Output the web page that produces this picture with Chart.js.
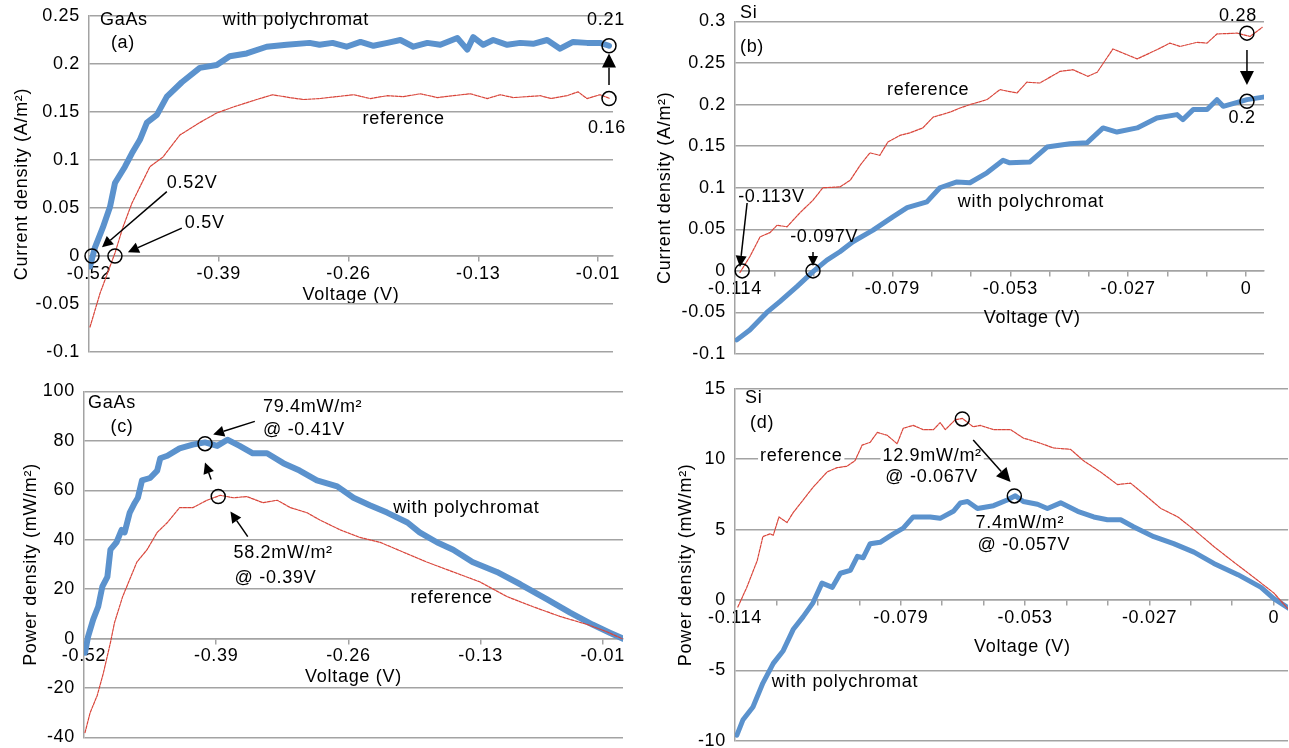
<!DOCTYPE html>
<html>
<head>
<meta charset="utf-8">
<script src="https://cdn.jsdelivr.net/npm/chart.js@4.4.0/dist/chart.umd.min.js"></script>
<style>
  html, body { margin: 0; padding: 0; background: #fff; overflow: hidden; width: 1289px; height: 748px; }
  canvas { position: absolute; left: 0; top: 0; }
</style>
</head>
<body>
<canvas id="chartA" width="1289" height="748"></canvas>
<canvas id="chartB" width="1289" height="748"></canvas>
<canvas id="chartC" width="1289" height="748"></canvas>
<canvas id="chartD" width="1289" height="748"></canvas>
<script>
// (a) GaAs current density vs voltage
const gaasPolyV = [-0.519,-0.514,-0.506,-0.499,-0.494,-0.484,-0.477,-0.469,-0.462,-0.452,-0.442,-0.427,-0.409,-0.392,-0.379,-0.362,-0.342,-0.322,-0.299,-0.289,-0.276,-0.262,-0.248,-0.235,-0.221,-0.208,-0.195,-0.181,-0.168,-0.151,-0.141,-0.135,-0.125,-0.115,-0.101,-0.088,-0.075,-0.061,-0.048,-0.035,-0.021,-0.008,0.001];
const gaasPolyJ = [-0.011,0.009,0.030,0.051,0.076,0.093,0.107,0.121,0.139,0.147,0.166,0.181,0.196,0.199,0.208,0.211,0.218,0.220,0.222,0.220,0.222,0.218,0.223,0.219,0.222,0.225,0.218,0.222,0.220,0.227,0.215,0.228,0.220,0.225,0.220,0.222,0.221,0.225,0.216,0.223,0.222,0.222,0.219];
const gaasRefV = [-0.519,-0.509,-0.499,-0.494,-0.486,-0.477,-0.469,-0.459,-0.446,-0.429,-0.409,-0.392,-0.376,-0.352,-0.336,-0.319,-0.305,-0.289,-0.272,-0.255,-0.238,-0.221,-0.205,-0.188,-0.171,-0.155,-0.138,-0.121,-0.108,-0.095,-0.081,-0.068,-0.057,-0.041,-0.030,-0.021,-0.008,0.002];
const gaasRefJ = [-0.074,-0.039,-0.011,0.003,0.030,0.055,0.072,0.093,0.103,0.126,0.139,0.149,0.155,0.163,0.168,0.165,0.163,0.164,0.166,0.168,0.164,0.167,0.166,0.169,0.165,0.167,0.169,0.164,0.168,0.165,0.166,0.167,0.164,0.167,0.171,0.164,0.168,0.164];

// (b) Si current density vs voltage
const siPolyV = [-0.1136,-0.1107,-0.1069,-0.1040,-0.1002,-0.0966,-0.0935,-0.0906,-0.0877,-0.0832,-0.0788,-0.0756,-0.0712,-0.0683,-0.0645,-0.0616,-0.0578,-0.0542,-0.0527,-0.0482,-0.0444,-0.0393,-0.0355,-0.0319,-0.0288,-0.0243,-0.0199,-0.0154,-0.0141,-0.0118,-0.0087,-0.0065,-0.0051,0.0002,0.0038];
const siPolyJ = [-0.083,-0.071,-0.050,-0.037,-0.019,-0.001,0.013,0.023,0.035,0.049,0.065,0.076,0.083,0.100,0.107,0.106,0.118,0.133,0.130,0.131,0.149,0.153,0.154,0.172,0.167,0.172,0.184,0.188,0.182,0.194,0.194,0.206,0.198,0.206,0.209];
const siRefV = [-0.1129,-0.1107,-0.1084,-0.1062,-0.1046,-0.1024,-0.0995,-0.0966,-0.0944,-0.0906,-0.0883,-0.0861,-0.0839,-0.0817,-0.0799,-0.0772,-0.0750,-0.0721,-0.0698,-0.0660,-0.0638,-0.0616,-0.0578,-0.0549,-0.0511,-0.0489,-0.0460,-0.0415,-0.0386,-0.0353,-0.0332,-0.0297,-0.0243,-0.0199,-0.0170,-0.0147,-0.0109,-0.0087,-0.0065,-0.0020,0.0009,0.0036];
const siRefJ = [-0.002,0.017,0.041,0.046,0.055,0.053,0.070,0.085,0.100,0.101,0.109,0.127,0.142,0.139,0.155,0.163,0.166,0.172,0.185,0.191,0.196,0.200,0.206,0.218,0.214,0.227,0.226,0.240,0.242,0.234,0.239,0.267,0.255,0.266,0.274,0.270,0.275,0.274,0.285,0.286,0.282,0.293];

// (c) GaAs power density vs voltage
const gaasPolyPV = [-0.519,-0.516,-0.511,-0.506,-0.502,-0.497,-0.494,-0.488,-0.483,-0.480,-0.475,-0.470,-0.467,-0.463,-0.455,-0.448,-0.445,-0.438,-0.426,-0.413,-0.401,-0.389,-0.379,-0.367,-0.354,-0.340,-0.324,-0.308,-0.291,-0.271,-0.255,-0.239,-0.222,-0.202,-0.190,-0.173,-0.157,-0.138,-0.114,-0.091,-0.065,-0.042,-0.020,-0.003,0.010];
const gaasPolyP = [-5.7,0.8,7.7,13,21,25,36,39,44,43,51,55,57,64,65,68,73,74,77,78.5,79.4,78,80.5,78,75,75,71,68,64,61.6,57,54,51,47,43,39,36,31,27,22,16,10.5,5.7,2.4,0];
const gaasRefPV = [-0.519,-0.514,-0.507,-0.501,-0.494,-0.490,-0.482,-0.475,-0.468,-0.458,-0.448,-0.438,-0.426,-0.413,-0.399,-0.386,-0.373,-0.360,-0.344,-0.330,-0.317,-0.301,-0.288,-0.268,-0.249,-0.229,-0.206,-0.183,-0.157,-0.131,-0.104,-0.079,-0.052,-0.025,-0.006,0.009];
const gaasRefP = [-38,-30,-23,-14,-1.6,6.5,17,24,31,36,43,47,53,53,56,58,57,57.5,55,56,53,51,48,44,41,39,35,31,27,23,17,13,9,5.7,2.8,0];

// (d) Si power density vs voltage
const siPolyPV = [-0.1136,-0.1123,-0.1102,-0.1081,-0.1059,-0.1038,-0.1017,-0.0996,-0.0975,-0.0956,-0.0934,-0.0917,-0.0896,-0.0881,-0.0869,-0.0854,-0.0833,-0.0805,-0.0784,-0.0763,-0.0727,-0.0706,-0.0678,-0.0663,-0.0648,-0.0627,-0.0593,-0.0564,-0.0547,-0.0530,-0.0500,-0.0479,-0.0451,-0.0415,-0.0381,-0.0352,-0.0324,-0.0297,-0.0254,-0.0212,-0.0169,-0.0127,-0.0076,-0.0027,0.0000,0.0032];
const siPolyP = [-9.6,-8.5,-7.6,-5.9,-4.5,-3.6,-2.1,-1.2,-0.2,1.2,0.9,1.9,2.1,3.1,3.0,4.0,4.1,4.7,5.1,5.9,5.9,5.8,6.3,6.9,7.0,6.5,6.7,7.1,7.4,7.0,6.8,6.5,6.9,6.3,5.9,5.7,5.7,5.2,4.5,4.0,3.4,2.6,1.8,0.9,0.1,-0.6];
const siRefPV = [-0.1134,-0.1115,-0.1093,-0.1081,-0.1066,-0.1059,-0.1047,-0.1030,-0.1017,-0.0996,-0.0975,-0.0945,-0.0924,-0.0903,-0.0886,-0.0871,-0.0854,-0.0839,-0.0818,-0.0797,-0.0784,-0.0763,-0.0742,-0.0720,-0.0706,-0.0695,-0.0674,-0.0659,-0.0636,-0.0621,-0.0593,-0.0557,-0.0530,-0.0500,-0.0466,-0.0430,-0.0403,-0.0367,-0.0331,-0.0303,-0.0267,-0.0239,-0.0203,-0.0169,-0.0127,-0.0085,-0.0042,0.0000,0.0032];
const siRefP = [-0.5,0.9,2.8,4.5,4.7,4.6,5.9,5.5,6.2,7.1,8.0,9.1,9.4,9.5,9.9,11.0,11.2,11.9,11.7,11.1,12.2,12.4,12.1,12.1,12.6,12.1,12.8,12.9,12.3,12.4,12.1,12.1,11.5,11.2,10.8,10.7,9.9,9.1,8.2,8.3,7.3,6.5,5.9,5.0,3.8,2.7,1.6,0.5,-0.7];

// axis ticks
const gaasXTicks = [-0.52, -0.39, -0.26, -0.13, -0.01];
const gaasXLabels = ['-0.52', '-0.39', '-0.26', '-0.13', '-0.01'];
const siXTicks = [-0.114,-0.1052,-0.0965,-0.0877,-0.0789,-0.0702,-0.0614,-0.0526,-0.0438,-0.0351,-0.0263,-0.0175,-0.0088,0];
const siXLabels = ['-0.114','','','','-0.079','','','-0.053','','','-0.027','','','0'];
const jGaasTicks = [-0.1, -0.05, 0, 0.05, 0.1, 0.15, 0.2, 0.25];
const jGaasLabels = ['-0.1', '-0.05', '0', '0.05', '0.1', '0.15', '0.2', '0.25'];
const jSiTicks = [-0.1, -0.05, 0, 0.05, 0.1, 0.15, 0.2, 0.25, 0.3];
const jSiLabels = ['-0.1', '-0.05', '0', '0.05', '0.1', '0.15', '0.2', '0.25', '0.3'];
const pGaasTicks = [-40, -20, 0, 20, 40, 60, 80, 100];
const pGaasLabels = ['-40', '-20', '0', '20', '40', '60', '80', '100'];
const pSiTicks = [-10, -5, 0, 5, 10, 15];
const pSiLabels = ['-10', '-5', '0', '5', '10', '15'];

const FONT = "'Liberation Sans', Arial, Helvetica, sans-serif";
const FONT_SIZE = 18;
const GRID = '#a3a3a3';
const BLUE = '#5b92cd';
const RED = '#d9463b';
const PAGE_W = 1289;
const PAGE_H = 748;

const pts = (xs, ys) => xs.map((x, i) => ({ x: x, y: ys[i] }));

// callouts, placed in data units of each panel
const notes = {
  chartA: [
    { type: 'text', x: -0.509, y: 0.246, text: 'GaAs' },
    { type: 'text', x: -0.486, y: 0.222, text: '(a)', align: 'center' },
    { type: 'text', x: -0.386, y: 0.246, text: 'with polychromat' },
    { type: 'text', x: -0.002, y: 0.246, text: '0.21', align: 'center' },
    { type: 'text', x: -0.001, y: 0.133, text: '0.16', align: 'center' },
    { type: 'text', x: -0.246, y: 0.143, text: 'reference' },
    { type: 'text', x: -0.442, y: 0.076, text: '0.52V' },
    { type: 'text', x: -0.424, y: 0.034, text: '0.5V' },
    { type: 'ring', x: -0.517, y: 0 },
    { type: 'ring', x: -0.494, y: 0 },
    { type: 'ring', x: 0.001, y: 0.219 },
    { type: 'ring', x: 0.001, y: 0.164 },
    { type: 'arrow', x1: -0.442, y1: 0.067, x2: -0.507, y2: 0.009, head: 11 },
    { type: 'arrow', x1: -0.427, y1: 0.029, x2: -0.481, y2: 0.004, head: 11 },
    { type: 'arrow', x1: 0.001, y1: 0.178, x2: 0.001, y2: 0.211, head: 14 }
  ],
  chartB: [
    { type: 'text', x: -0.1129, y: 0.310, text: 'Si' },
    { type: 'text', x: -0.1129, y: 0.269, text: '(b)' },
    { type: 'text', x: -0.0801, y: 0.2175, text: 'reference' },
    { type: 'text', x: -0.0643, y: 0.083, text: 'with polychromat' },
    { type: 'text', x: -0.0018, y: 0.3065, text: '0.28', align: 'center' },
    { type: 'text', x: -0.0009, y: 0.184, text: '0.2', align: 'center' },
    { type: 'text', x: -0.1133, y: 0.089, text: '-0.113V' },
    { type: 'text', x: -0.1017, y: 0.041, text: '-0.097V' },
    { type: 'text', x: -0.0477, y: -0.0565, text: 'Voltage (V)', align: 'center' },
    { type: 'ring', x: -0.1124, y: 0 },
    { type: 'ring', x: -0.0966, y: 0 },
    { type: 'ring', x: 0.0002, y: 0.286 },
    { type: 'ring', x: 0.0002, y: 0.204 },
    { type: 'arrow', x1: -0.1113, y1: 0.0817, x2: -0.1129, y2: 0.0048, head: 11 },
    { type: 'arrow', x1: -0.0966, y1: 0.0228, x2: -0.0966, y2: 0.006, head: 10 },
    { type: 'arrow', x1: 0.0002, y1: 0.2656, x2: 0.0002, y2: 0.2236, head: 14 }
  ],
  chartC: [
    { type: 'text', x: -0.516, y: 95.5, text: 'GaAs' },
    { type: 'text', x: -0.494, y: 85.8, text: '(c)' },
    { type: 'text', x: -0.344, y: 93.9, text: '79.4mW/m²' },
    { type: 'text', x: -0.344, y: 84.6, text: '@ -0.41V' },
    { type: 'text', x: -0.373, y: 34.8, text: '58.2mW/m²' },
    { type: 'text', x: -0.372, y: 24.7, text: '@ -0.39V' },
    { type: 'text', x: -0.216, y: 53, text: 'with polychromat' },
    { type: 'text', x: -0.199, y: 16.6, text: 'reference' },
    { type: 'ring', x: -0.401, y: 78.9 },
    { type: 'ring', x: -0.388, y: 57.5 },
    { type: 'arrow', x1: -0.352, y1: 87.9, x2: -0.393, y2: 82.6, head: 11 },
    { type: 'arrow', x1: -0.395, y1: 64.4, x2: -0.401, y2: 71.3, head: 11 },
    { type: 'arrow', x1: -0.359, y1: 41.3, x2: -0.376, y2: 51.4, head: 11 }
  ],
  chartD: [
    { type: 'text', x: -0.1119, y: 14.35, text: 'Si' },
    { type: 'text', x: -0.1108, y: 12.57, text: '(d)' },
    { type: 'text', x: -0.1087, y: 10.23, text: 'reference', bg: true },
    { type: 'text', x: -0.0828, y: 10.23, text: '12.9mW/m²', bg: true },
    { type: 'text', x: -0.0822, y: 8.74, text: '@ -0.067V' },
    { type: 'text', x: -0.0631, y: 5.47, text: '7.4mW/m²' },
    { type: 'text', x: -0.0627, y: 3.91, text: '@ -0.057V' },
    { type: 'text', x: -0.1062, y: -5.82, text: 'with polychromat' },
    { type: 'text', x: -0.0532, y: -3.34, text: 'Voltage (V)', align: 'center' },
    { type: 'ring', x: -0.0659, y: 12.86 },
    { type: 'ring', x: -0.0549, y: 7.39 },
    { type: 'arrow', x1: -0.0636, y1: 11.36, x2: -0.0557, y2: 8.38, head: 14 }
  ]
};

// draws the text boxes, circles and arrows on top of the plot
const notesPlugin = {
  id: 'notes',
  beforeDraw(chart) {
    chart.ctx.letterSpacing = '0.7px';
  },
  afterDraw(chart) {
    const list = notes[chart.canvas.id] || [];
    const ctx = chart.ctx;
    const px = v => chart.scales.x.getPixelForValue(v);
    const py = v => chart.scales.y.getPixelForValue(v);
    ctx.save();
    ctx.font = FONT_SIZE + 'px ' + FONT;
    ctx.fillStyle = '#000';
    ctx.strokeStyle = '#000';
    ctx.lineWidth = 1.5;
    ctx.textBaseline = 'middle';
    list.forEach(n => {
      if (n.type === 'text') {
        ctx.textAlign = n.align || 'left';
        const x = px(n.x), y = py(n.y);
        if (n.bg) {
          const w = ctx.measureText(n.text).width;
          const x0 = n.align === 'center' ? x - w / 2 : x;
          ctx.fillStyle = '#fff';
          ctx.fillRect(x0 - 2, y - 10, w + 4, 20);
          ctx.fillStyle = '#000';
        }
        ctx.fillText(n.text, x, y);
      } else if (n.type === 'ring') {
        ctx.beginPath();
        ctx.arc(px(n.x), py(n.y), n.r || 7, 0, Math.PI * 2);
        ctx.stroke();
      } else if (n.type === 'arrow') {
        const x1 = px(n.x1), y1 = py(n.y1), x2 = px(n.x2), y2 = py(n.y2);
        const a = Math.atan2(y2 - y1, x2 - x1);
        const len = n.head || 11, half = len * 0.5;
        const bx = x2 - len * Math.cos(a), by = y2 - len * Math.sin(a);
        ctx.beginPath();
        ctx.moveTo(x1, y1);
        ctx.lineTo(bx, by);
        ctx.stroke();
        ctx.beginPath();
        ctx.moveTo(x2, y2);
        ctx.lineTo(bx + half * Math.sin(a), by - half * Math.cos(a));
        ctx.lineTo(bx - half * Math.sin(a), by + half * Math.cos(a));
        ctx.closePath();
        ctx.fill();
      }
    });
    ctx.restore();
  }
};

const tickFont = { family: FONT, size: FONT_SIZE };

function makePanel(id, p) {
  // the x axis sits on y = 0 and takes no room of its own in the layout
  const padding = {
    left: p.axisLeft,
    top: p.area.top,
    right: PAGE_W - p.area.right,
    bottom: PAGE_H - p.area.bottom
  };
  const datasets = p.series.map(s => ({
    data: s.data,
    borderColor: s.ref ? RED : BLUE,
    borderWidth: s.ref ? 1.2 : p.blueWidth,
    borderDash: s.ref ? [3, 1.2] : [],
    borderJoinStyle: 'round',
    borderCapStyle: 'round',
    pointRadius: 0,
    tension: 0,
    fill: false
  }));
  return new Chart(document.getElementById(id), {
    type: 'line',
    data: { datasets: datasets },
    options: {
      responsive: false,
      animation: false,
      events: [],
      layout: { padding: padding },
      plugins: { legend: { display: false }, tooltip: { enabled: false } },
      scales: {
        x: {
          type: 'linear',
          position: { y: 0 },
          min: p.xMin,
          max: p.xMax,
          afterBuildTicks: s => { s.ticks = p.xTicks.map(v => ({ value: v })); },
          afterFit: s => { s.height = p.xHeight; s.paddingLeft = 0; s.paddingRight = 0; },
          ticks: { callback: (v, i) => p.xLabels[i], autoSkip: false, maxRotation: 0, padding: 2, color: '#000', font: tickFont },
          grid: { drawOnChartArea: false, drawTicks: true, tickLength: 5, color: GRID, lineWidth: 1.5 },
          border: { display: true, color: GRID, width: 1.5 },
          title: { display: p.xTitle, text: 'Voltage (V)', color: '#000', font: tickFont, padding: 0 }
        },
        y: {
          type: 'linear',
          min: p.yMin,
          max: p.yMax,
          afterBuildTicks: s => { s.ticks = p.yTicks.map(v => ({ value: v })); },
          afterFit: s => { s.width = p.area.left - p.axisLeft; s.paddingTop = 0; s.paddingBottom = 0; },
          ticks: { callback: (v, i) => p.yLabels[i], padding: 9, color: '#000', font: tickFont },
          grid: { color: GRID, lineWidth: 1.5, drawTicks: false },
          border: { display: true, color: GRID, width: 1.5 },
          title: { display: true, text: p.yTitle, color: '#000', font: tickFont, padding: { top: p.yTitlePad, bottom: 0 } }
        }
      }
    },
    plugins: [notesPlugin]
  });
}

makePanel('chartA', {
  area: { left: 89, top: 16, right: 613, bottom: 352 },
  axisLeft: 0, xHeight: 50, yTitlePad: 11, blueWidth: 6, xTitle: true,
  xMin: -0.52, xMax: 0.005, xTicks: gaasXTicks, xLabels: gaasXLabels,
  yMin: -0.1, yMax: 0.25, yTicks: jGaasTicks, yLabels: jGaasLabels,
  yTitle: 'Current density (A/m²)',
  series: [{ data: pts(gaasRefV, gaasRefJ), ref: true }, { data: pts(gaasPolyV, gaasPolyJ) }]
});

// (b) and (d) have their axis title moved off-centre, drawn with the callouts
makePanel('chartB', {
  area: { left: 735, top: 21.5, right: 1264, bottom: 354 },
  axisLeft: 640, xHeight: 58, yTitlePad: 14, blueWidth: 5, xTitle: false,
  xMin: -0.114, xMax: 0.004, xTicks: siXTicks, xLabels: siXLabels,
  yMin: -0.1, yMax: 0.3, yTicks: jSiTicks, yLabels: jSiLabels,
  yTitle: 'Current density (A/m²)',
  series: [{ data: pts(siRefV, siRefJ), ref: true }, { data: pts(siPolyV, siPolyJ) }]
});

makePanel('chartC', {
  area: { left: 84, top: 391.5, right: 623, bottom: 737.5 },
  axisLeft: 0, xHeight: 49, yTitlePad: 20, blueWidth: 6, xTitle: true,
  xMin: -0.52, xMax: 0.01, xTicks: gaasXTicks, xLabels: gaasXLabels,
  yMin: -40, yMax: 100, yTicks: pGaasTicks, yLabels: pGaasLabels,
  yTitle: 'Power density (mW/m²)',
  series: [{ data: pts(gaasRefPV, gaasRefP), ref: true }, { data: pts(gaasPolyPV, gaasPolyP) }]
});

makePanel('chartD', {
  area: { left: 735, top: 388.8, right: 1288, bottom: 740.8 },
  axisLeft: 640, xHeight: 58, yTitlePad: 35, blueWidth: 5, xTitle: false,
  xMin: -0.114, xMax: 0.003, xTicks: siXTicks, xLabels: siXLabels,
  yMin: -10, yMax: 15, yTicks: pSiTicks, yLabels: pSiLabels,
  yTitle: 'Power density (mW/m²)',
  series: [{ data: pts(siRefPV, siRefP), ref: true }, { data: pts(siPolyPV, siPolyP) }]
});
</script>
</body>
</html>
